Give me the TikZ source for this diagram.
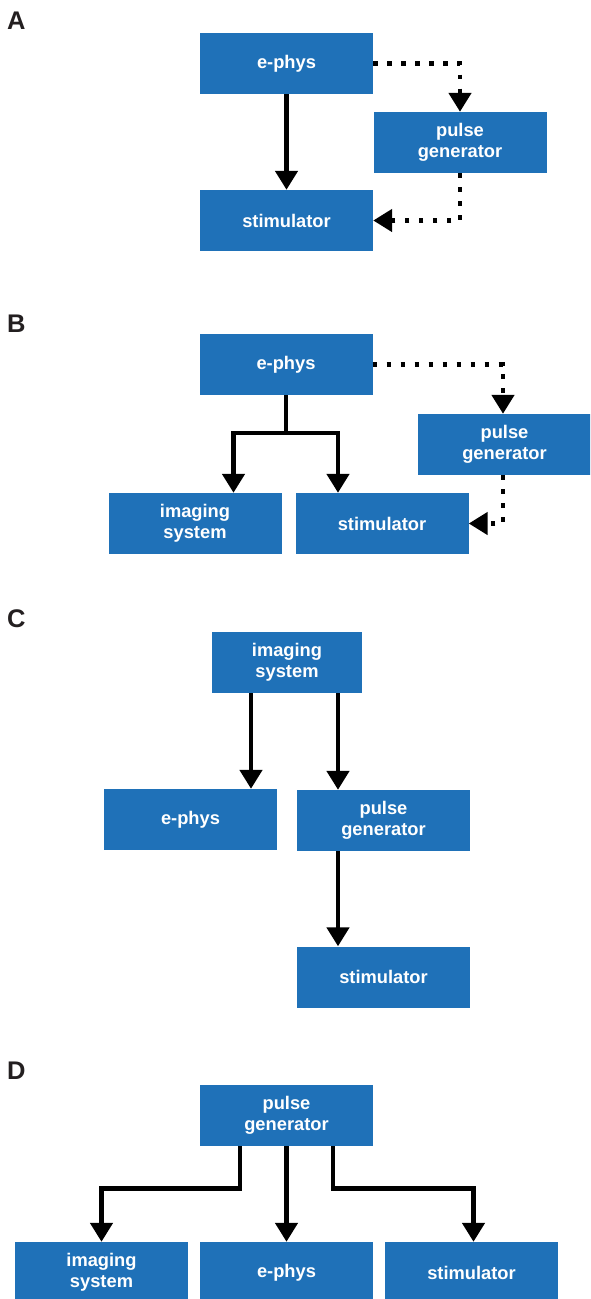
\documentclass[tikz,border=0pt]{standalone}
\usepackage{fontspec}
\setmainfont{Liberation Sans}
\usetikzlibrary{arrows.meta}
\definecolor{boxblue}{RGB}{31,113,184}
\definecolor{labelink}{RGB}{35,31,32}
\tikzset{
  box/.style={rectangle, fill=boxblue, text=white, font=\bfseries\fontsize{18.3}{21.5}\selectfont,
    align=center, minimum width=173pt, minimum height=61pt, inner sep=0pt},
  panel/.style={anchor=base west, inner sep=0pt, text=labelink, font=\bfseries\fontsize{25.5}{25.5}\selectfont},
  solidarrow/.style={line width=4.6pt, -{Triangle[width=22pt,length=19pt]}},
  solidline/.style={line width=4.6pt},
  dotarrow/.style={line width=4.6pt, dash pattern=on 4.5pt off 9.5pt, -{Triangle[width=22pt,length=19pt]}}
}
\begin{document}
\begin{tikzpicture}[x=1pt,y=-1pt]
\useasboundingbox (0,0) rectangle (590,1299);
\clip (0,0) rectangle (590,1299);
% ---------- A ----------
\node[panel] (labA) at (7,29.5) {A};
\node[box] (ephysA) at (286.5,63.5) {e-phys};
\node[box] (pulseA) at (460,142.5) {pulse\\generator};
\node[box] (stimA) at (286.5,220.5) {stimulator};
\draw[solidarrow] (ephysA.south) -- (stimA.north);
\draw[dotarrow] (ephysA.east) -| (pulseA.north);
\draw[dotarrow] (pulseA.south) |- (stimA.east);
% ---------- B ----------
\node[panel] (labB) at (7,332.5) {B};
\node[box] (ephysB) at (286,364.5) {e-phys};
\node[box] (pulseB) at (504.5,444.5) {pulse\\generator};
\node[box] (imgB) at (195,523.5) {imaging\\system};
\node[box] (stimB) at (382,523.5) {stimulator};
\coordinate (joinB) at (286,433);
\draw[solidline] (ephysB.south) -- (joinB);
\draw[solidarrow] (joinB) -| ([xshift=38.5pt]imgB.north);
\draw[solidarrow] (joinB) -| ([xshift=-44pt]stimB.north);
\draw[dotarrow] (ephysB.east) -| ([xshift=-1.5pt]pulseB.north);
\draw[dotarrow] ([xshift=-1.5pt]pulseB.south) |- (stimB.east);
% ---------- C ----------
\node[panel] (labC) at (7,627.5) {C};
\node[box, minimum width=150pt] (imgC) at (287,662.5) {imaging\\system};
\node[box] (ephysC) at (190.5,819.5) {e-phys};
\node[box] (pulseC) at (383.5,820.5) {pulse\\generator};
\node[box] (stimC) at (383.5,977) {stimulator};
\draw[solidarrow] ([xshift=-36pt]imgC.south) -- ([xshift=60.5pt]ephysC.north);
\draw[solidarrow] ([xshift=51pt]imgC.south) -- ([xshift=-45.5pt]pulseC.north);
\draw[solidarrow] ([xshift=-45.5pt]pulseC.south) -- ([xshift=-45.5pt]stimC.north);
% ---------- D ----------
\node[panel] (labD) at (7,1079.5) {D};
\node[box] (pulseD) at (286.5,1115.5) {pulse\\generator};
\node[box] (imgD) at (101.5,1272.5) {imaging\\system};
\node[box] (ephysD) at (286.5,1272.5) {e-phys};
\node[box] (stimD) at (471.5,1272.5) {stimulator};
\draw[solidarrow] ([xshift=-46.5pt]pulseD.south) -- ++(0,42) -| (imgD.north);
\draw[solidarrow] (pulseD.south) -- (ephysD.north);
\draw[solidarrow] ([xshift=46.5pt]pulseD.south) -- ++(0,42) -| ([xshift=2pt]stimD.north);
\end{tikzpicture}
\end{document}
